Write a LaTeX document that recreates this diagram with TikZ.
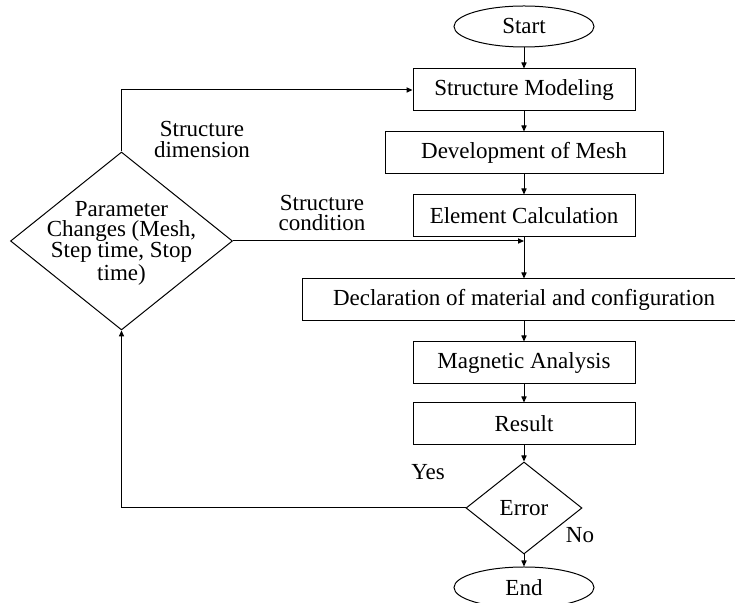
\documentclass[tikz,border=0pt]{standalone}
\usepackage{fontspec}
\setmainfont{Liberation Serif}
\usetikzlibrary{arrows.meta, shapes.geometric, positioning}
\tikzset{
  flowbox/.style={
    rectangle, draw=black, line width=0.5pt,
    minimum width=#1, minimum height=21pt,
    inner sep=0pt, text centered
  },
  flowbox/.default=111pt,
  termnode/.style={
    ellipse, draw=black, line width=0.5pt,
    minimum width=70pt, minimum height=20.5pt, inner sep=0pt
  },
  decnode/.style={
    diamond, draw=black, line width=0.5pt, inner sep=0pt
  },
  flowarrow/.style={-{Triangle[length=3pt,width=2.6pt]}, line width=0.5pt},
  sidelabel/.style={align=center, inner sep=0pt},
}

\begin{document}
\begin{tikzpicture}[node distance=10pt, font=\fontsize{11.5pt}{10.3pt}\selectfont]
  \useasboundingbox (0,0) rectangle (367.5pt,-301.5pt);
  \clip (0,0) rectangle (367.5pt,-301.5pt);
  % main column
  \node[termnode](start) at (262pt,-13.25pt){Start};
  \node[flowbox, below=10.5pt of start](model){Structure Modeling};
  \node[flowbox=139pt, below=of model](mesh){Development of Mesh};
  \node[flowbox, below=of mesh](elem){Element Calculation};
  \node[flowbox=222pt, below=20.5pt of elem](decl){Declaration of material and configuration};
  \node[flowbox, below=of decl](magnet){Magnetic Analysis};
  \node[flowbox, below=9pt of magnet](result){Result};
  \node[decnode, minimum width=58pt, minimum height=46pt,
        below=8pt of result](error){Error};
  \node[termnode, below=6pt of error](finish){End};
  % parameter loop
  \node[decnode, minimum width=111pt, minimum height=89pt]
        (param) at (60.75pt,-120.5pt){};
  \node[sidelabel](paramtext) at ([yshift=-1pt]param.center)
        {Parameter\\Changes (Mesh,\\Step time, Stop\\time)};
  \node[sidelabel](dimlabel) at (101pt,-69.75pt){Structure\\dimension};
  \node[sidelabel](condlabel) at (161pt,-106.5pt){Structure\\condition};
  \node[inner sep=0pt](yeslabel) at (214pt,-236pt){Yes};
  \node[inner sep=0pt](nolabel) at (290pt,-267.5pt){No};
  % connectors
  \draw[flowarrow](start)--(model);
  \draw[flowarrow](model)--(mesh);
  \draw[flowarrow](mesh)--(elem);
  \draw[flowarrow](elem)--(decl);
  \draw[flowarrow](decl)--(magnet);
  \draw[flowarrow](magnet)--(result);
  \draw[flowarrow](result)--(error);
  \draw[flowarrow](error)--(finish);
  \draw[flowarrow](param.north)|-(model.west);
  \draw[flowarrow](param.east)--(param.east -| elem.south);
  \draw[flowarrow](error.west)-|(param.south);
\end{tikzpicture}
\end{document}
